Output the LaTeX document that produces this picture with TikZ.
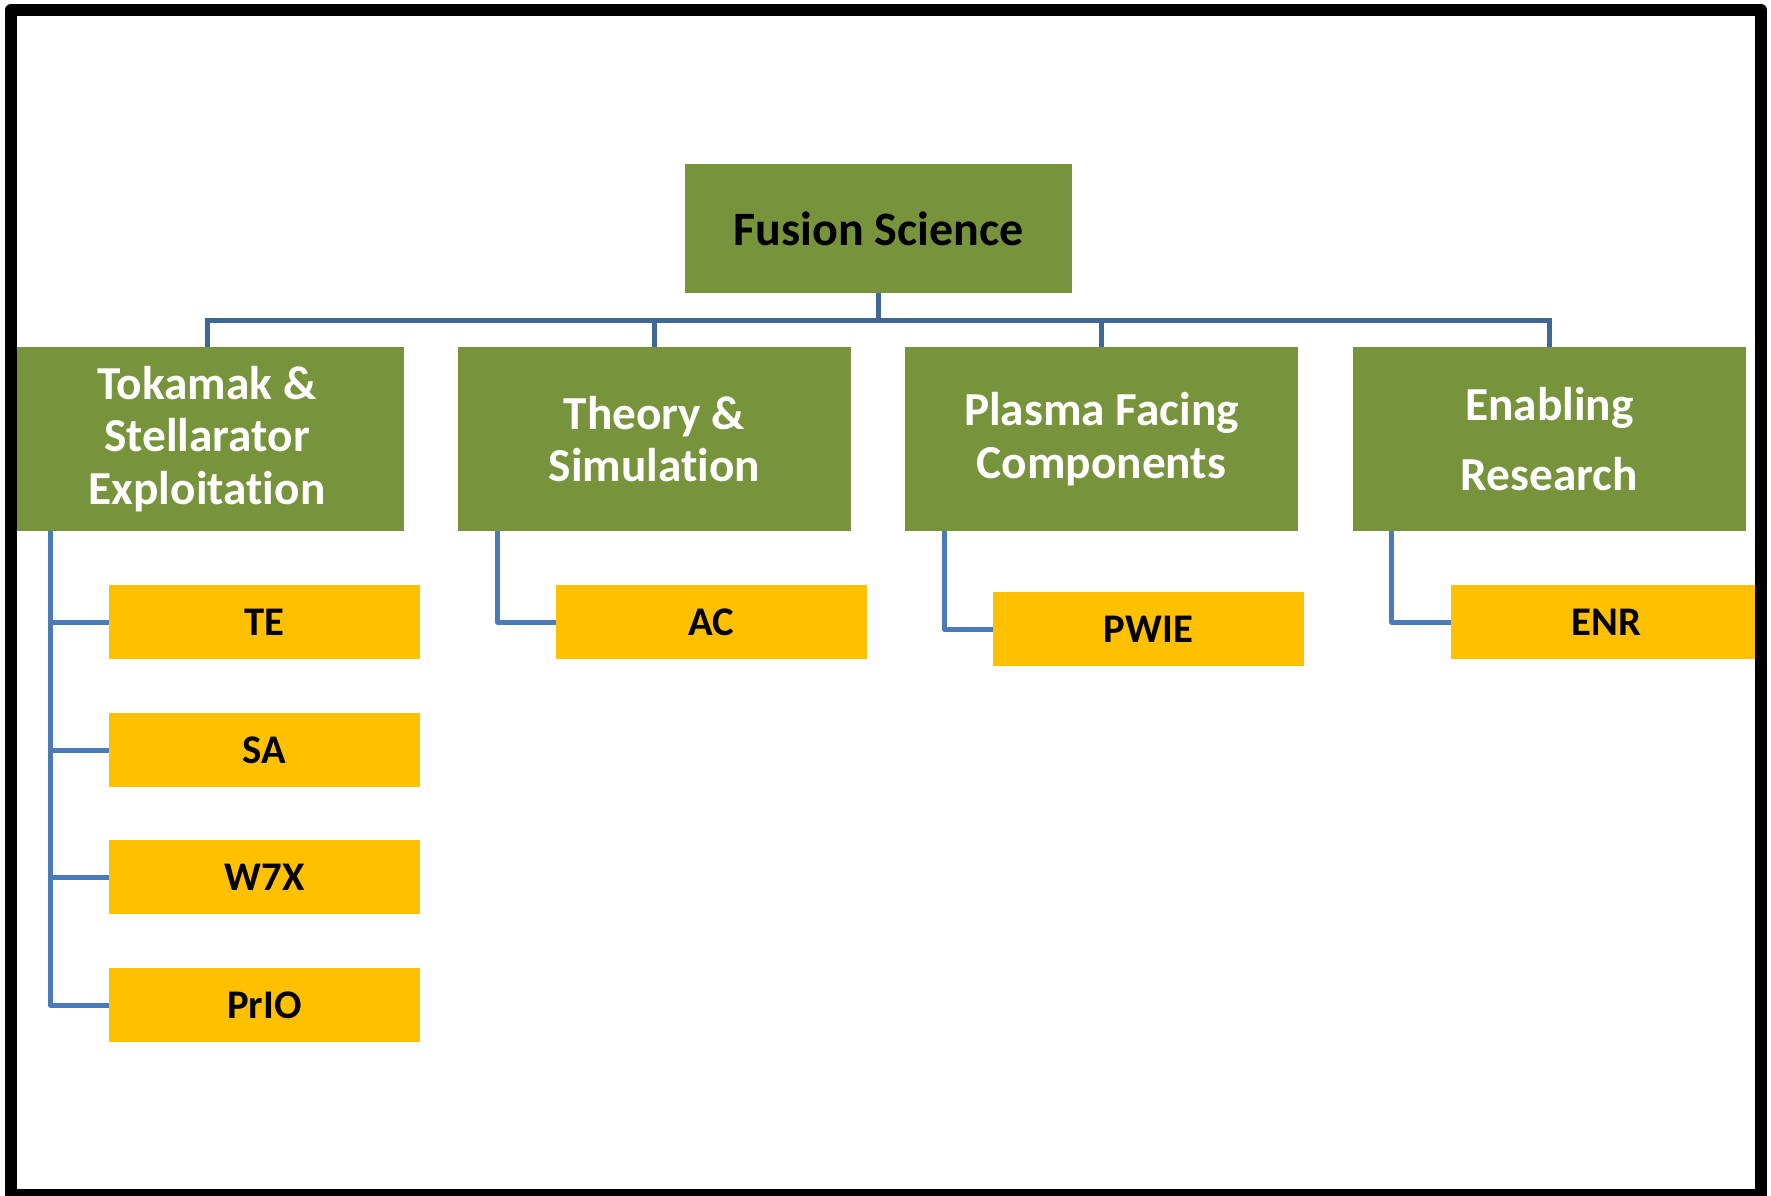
\documentclass[tikz,border=0pt]{standalone}
\usepackage{fontspec}
\setmainfont[Ligatures={NoCommon}]{Carlito}
\definecolor{olive}{HTML}{77933C}
\definecolor{amber}{HTML}{FFC000}
\definecolor{busblue}{HTML}{3F6898}
\definecolor{connblue}{HTML}{4A7AB8}
\begin{document}
\begin{tikzpicture}[x=0.75pt,y=-0.75pt,
  topbox/.style={fill=olive, draw=none, inner sep=0pt, minimum width=290.25pt, minimum height=96.75pt,
    font={\fontsize{36}{40}\selectfont\bfseries}, text=black, align=center},
  midbox/.style={fill=olive, draw=none, inner sep=0pt, minimum width=294.75pt, minimum height=138pt,
    font={\fontsize{35.5}{39.5}\selectfont\bfseries}, text=white, align=center},
  leafbox/.style={fill=amber, draw=none, inner sep=0pt, minimum width=233.25pt, minimum height=55.5pt,
    font={\fontsize{30.5}{36}\selectfont\bfseries}, text=black},
  bus/.style={draw=busblue, line width=3.75pt},
  conn/.style={draw=connblue, line width=3.75pt, line join=round},
  frame/.style={draw=black, line width=9pt, line join=round}]
\useasboundingbox (0,0) rectangle (1771,1196);
\fill[white] (0,0) rectangle (1771,1196);

\node[topbox] (fs) at (878.5,228.5) {Fusion Science};

\node[midbox] (tok) at (207,439) {Tokamak \&\\Stellarator\\Exploitation};
\node[midbox] (th) at (654.5,439) {Theory \&\\Simulation};
\node[midbox] (pf) at (1101.5,439) {Plasma Facing\\Components};
\node[midbox, font={\fontsize{35.5}{53}\selectfont\bfseries}] (en) at (1549.5,439) {Enabling\\Research};

\node[leafbox] (te) at (264.5,622) {TE};
\node[leafbox] (sa) at (264.5,750) {SA};
\node[leafbox] (w7x) at (264.5,877) {W7X};
\node[leafbox] (prio) at (264.5,1005) {PrIO};
\node[leafbox] (ac) at (711.5,622) {AC};
\node[leafbox] (pwie) at (1148.5,629) {PWIE};
\node[leafbox] (enr) at (1606.5,622) {ENR};

\coordinate (busy) at (0,320.7);
\draw[bus] (tok.north) -- (tok.north |- busy) -- (en.north |- busy) -- (en.north);
\draw[bus] (fs.south) -- (fs.south |- busy);
\draw[bus] (th.north) -- (th.north |- busy);
\draw[bus] (pf.north) -- (pf.north |- busy);

\draw[conn] ([xshift=30pt]tok.south west) |- (prio.west);
\draw[conn] ([xshift=30pt]tok.south west) |- (te.west);
\draw[conn] ([xshift=30pt]tok.south west) |- (sa.west);
\draw[conn] ([xshift=30pt]tok.south west) |- (w7x.west);
\draw[conn] ([xshift=30pt]th.south west) |- (ac.west);
\draw[conn] ([xshift=29.5pt]pf.south west) |- (pwie.west);
\draw[conn] ([xshift=29pt]en.south west) |- (enr.west);

\draw[frame] (11,10) rectangle (1761,1195);
\end{tikzpicture}
\end{document}
